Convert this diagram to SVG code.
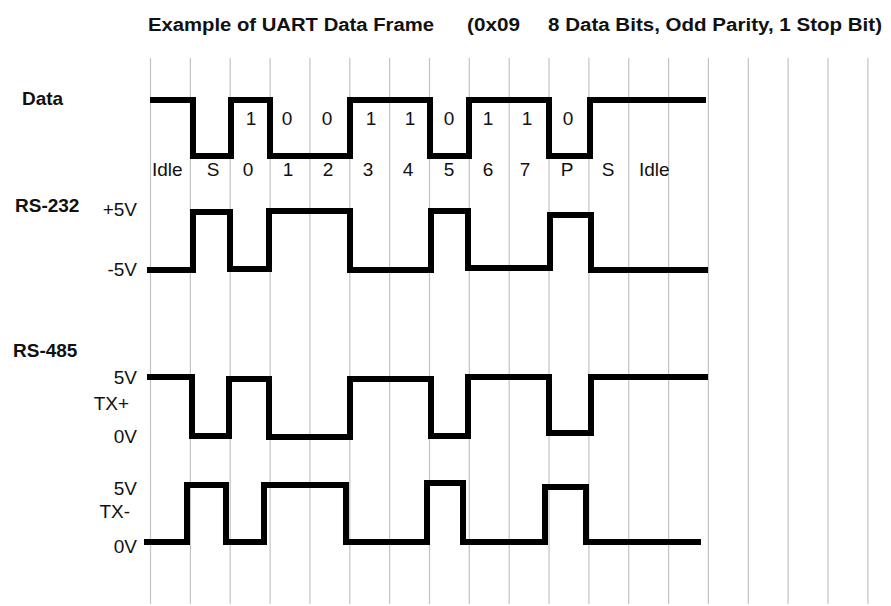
<svg xmlns="http://www.w3.org/2000/svg" width="891" height="606" viewBox="0 0 891 606">
<style>
.grid line{stroke:#c3c3c3;stroke-width:1.2}
.wave{fill:none;stroke:#000;stroke-width:6;stroke-linejoin:miter;stroke-linecap:butt}
text{font-family:"Liberation Sans",Arial,sans-serif;fill:#111}
.t{font-size:19px}
.b{font-size:19px;font-weight:bold}
.title{font-size:18px;font-weight:bold}
</style>
<rect width="891" height="606" fill="#fff"/>
<g id="grid" class="grid">
<line x1="150.5" y1="58" x2="150.5" y2="604"/>
<line x1="190.4" y1="58" x2="190.4" y2="604"/>
<line x1="230.2" y1="58" x2="230.2" y2="604"/>
<line x1="270.1" y1="58" x2="270.1" y2="604"/>
<line x1="309.9" y1="58" x2="309.9" y2="604"/>
<line x1="349.8" y1="58" x2="349.8" y2="604"/>
<line x1="389.6" y1="58" x2="389.6" y2="604"/>
<line x1="429.5" y1="58" x2="429.5" y2="604"/>
<line x1="469.3" y1="58" x2="469.3" y2="604"/>
<line x1="509.2" y1="58" x2="509.2" y2="604"/>
<line x1="549" y1="58" x2="549" y2="604"/>
<line x1="588.9" y1="58" x2="588.9" y2="604"/>
<line x1="628.7" y1="58" x2="628.7" y2="604"/>
<line x1="668.6" y1="58" x2="668.6" y2="604"/>
<line x1="708.4" y1="58" x2="708.4" y2="604"/>
<line x1="748.3" y1="58" x2="748.3" y2="604"/>
<line x1="788.1" y1="58" x2="788.1" y2="604"/>
<line x1="828" y1="58" x2="828" y2="604"/>
<line x1="867.9" y1="58" x2="867.9" y2="604"/>
</g>
<g id="title">
<text class="title" x="148" y="31" textLength="286" lengthAdjust="spacingAndGlyphs">Example of UART Data Frame</text>
<text class="title" x="467" y="31" textLength="53" lengthAdjust="spacingAndGlyphs">(0x09</text>
<text class="title" x="548" y="31" textLength="334" lengthAdjust="spacingAndGlyphs">8 Data Bits, Odd Parity, 1 Stop Bit)</text>
</g>
<g id="data">
<text class="b" x="22" y="105">Data</text>
<path class="wave" d="M150,100 H193 V156 H231 V100 H270 V156 H350 V100 H430 V156 H469 V100 H549 V156 H590 V100 H706"/>
<g class="t" text-anchor="middle">
<text x="251" y="125">1</text>
<text x="287" y="125">0</text>
<text x="327" y="125">0</text>
<text x="371" y="125">1</text>
<text x="410" y="125">1</text>
<text x="449" y="125">0</text>
<text x="488" y="125">1</text>
<text x="527" y="125">1</text>
<text x="568" y="125">0</text>
<text x="213" y="176">S</text>
<text x="248" y="176">0</text>
<text x="288" y="176">1</text>
<text x="328" y="176">2</text>
<text x="368" y="176">3</text>
<text x="408" y="176">4</text>
<text x="449" y="176">5</text>
<text x="488" y="176">6</text>
<text x="525" y="176">7</text>
<text x="567" y="176">P</text>
<text x="608" y="176">S</text>
</g>
<text class="t" x="152" y="176">Idle</text>
<text class="t" x="639" y="176">Idle</text>
</g>
<g id="rs232">
<text class="b" x="15" y="212">RS-232</text>
<g class="t" text-anchor="end">
<text x="137" y="216">+5V</text>
<text x="137" y="276">-5V</text>
</g>
<path class="wave" d="M147,270 H193 V212 H230 V269 H269 V211 H350 V270 H431 V211 H468 V268 H550 V215 H591 V270 H708"/>
</g>
<g id="rs485">
<text class="b" x="13" y="357">RS-485</text>
</g>
<g id="txplus">
<g class="t" text-anchor="end">
<text x="137" y="384">5V</text>
<text x="129" y="410">TX+</text>
<text x="137" y="443">0V</text>
</g>
<path class="wave" d="M147,377 H192 V436 H229 V379 H269 V437 H350 V379 H431 V436 H468 V377 H549 V433 H591 V377 H708"/>
</g>
<g id="txminus">
<g class="t" text-anchor="end">
<text x="137" y="495">5V</text>
<text x="130" y="518">TX-</text>
<text x="137" y="553">0V</text>
</g>
<path class="wave" d="M144,542 H187 V485 H226 V542 H264 V485 H346 V542 H427 V483 H463 V542 H545 V487 H586 V542 H701"/>
</g>
</svg>
